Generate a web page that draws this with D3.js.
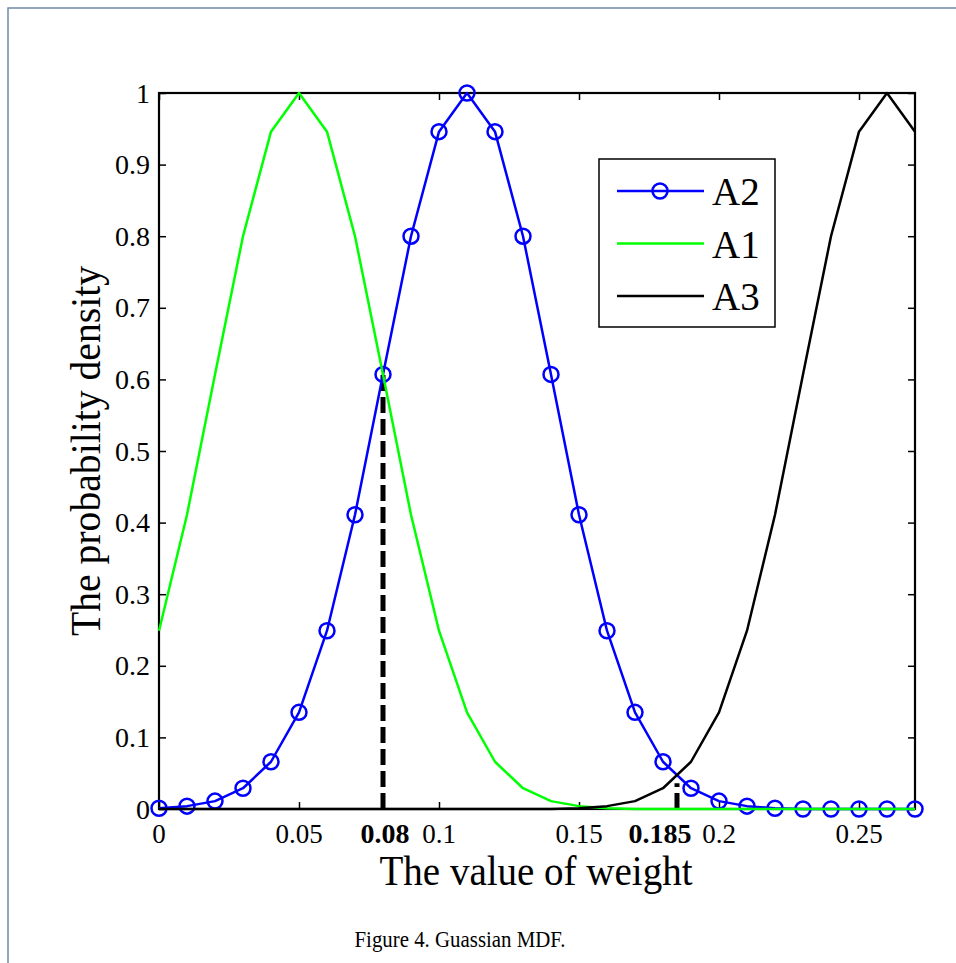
<!DOCTYPE html>
<html>
<head>
<meta charset="utf-8">
<script src="https://cdn.jsdelivr.net/npm/d3@7"></script>
<style>
  html, body { margin: 0; padding: 0; background: #fff; }
  svg { display: block; font-family: "Liberation Serif", "Times New Roman", serif; }
</style>
</head>
<body>
<svg id="chart" width="956" height="963"></svg>
<script>
// Weight grid (x) and the membership curve of each class
const weights = [0.00, 0.01, 0.02, 0.03, 0.04, 0.05, 0.06, 0.07, 0.08, 0.09,
                 0.10, 0.11, 0.12, 0.13, 0.14, 0.15, 0.16, 0.17, 0.18, 0.19,
                 0.20, 0.21, 0.22, 0.23, 0.24, 0.25, 0.26, 0.27];
const seriesA2 = [0.001, 0.004, 0.011, 0.029, 0.066, 0.135, 0.249, 0.411, 0.607, 0.800,
                  0.946, 1.000, 0.946, 0.800, 0.607, 0.411, 0.249, 0.135, 0.066, 0.029,
                  0.011, 0.004, 0.001, 0.000, 0.000, 0.000, 0.000, 0.000];
const seriesA1 = [0.249, 0.411, 0.607, 0.800, 0.946, 1.000, 0.946, 0.800, 0.607, 0.411,
                  0.249, 0.135, 0.066, 0.029, 0.011, 0.004, 0.001, 0.000, 0.000, 0.000,
                  0.000, 0.000, 0.000, 0.000, 0.000, 0.000, 0.000, 0.000];
const seriesA3 = [0.000, 0.000, 0.000, 0.000, 0.000, 0.000, 0.000, 0.000, 0.000, 0.000,
                  0.000, 0.000, 0.000, 0.000, 0.000, 0.001, 0.004, 0.011, 0.029, 0.066,
                  0.135, 0.249, 0.411, 0.607, 0.800, 0.946, 1.000, 0.946];
const seriesNames = ["A2", "A1", "A3"];
const xTicks = [0, 0.05, 0.1, 0.15, 0.2, 0.25];
const xTickLabels = ["0", "0.05", "0.1", "0.15", "0.2", "0.25"];
const yTicks = [0, 0.1, 0.2, 0.3, 0.4, 0.5, 0.6, 0.7, 0.8, 0.9, 1];
const yTickLabels = ["0", "0.1", "0.2", "0.3", "0.4", "0.5", "0.6", "0.7", "0.8", "0.9", "1"];
// Crossing points marked with dashed drop lines
const crossWeights = [0.08, 0.185];
const crossHeights = [0.607, 0.036];
const crossLabels = ["0.08", "0.185"];

const svg = d3.select("#chart");
const W = 956, H = 963;
const plot = { left: 159, right: 915, top: 93, bottom: 809 };

svg.append("rect").attr("width", W).attr("height", H).attr("fill", "#fff");

// page frame lines
svg.append("path")
  .attr("d", `M8,${H} L8,8 L${W},8`)
  .attr("fill", "none").attr("stroke", "#7088a8").attr("stroke-width", 1.5);

const x = d3.scaleLinear().domain([0, 0.27]).range([plot.left, plot.right]);
const y = d3.scaleLinear().domain([0, 1]).range([plot.bottom, plot.top]);
const tickLen = 7;

// axes (inward ticks on all four sides)
const gAxes = svg.append("g");
gAxes.append("g").attr("transform", `translate(0,${plot.bottom})`)
  .call(d3.axisBottom(x).tickValues(xTicks).tickSizeInner(-tickLen).tickSizeOuter(0).tickFormat(""));
gAxes.append("g").attr("transform", `translate(0,${plot.top})`)
  .call(d3.axisTop(x).tickValues(xTicks).tickSizeInner(-tickLen).tickSizeOuter(0).tickFormat(""));
gAxes.append("g").attr("transform", `translate(${plot.left},0)`)
  .call(d3.axisLeft(y).tickValues(yTicks).tickSizeInner(-tickLen).tickSizeOuter(0).tickFormat(""));
gAxes.append("g").attr("transform", `translate(${plot.right},0)`)
  .call(d3.axisRight(y).tickValues(yTicks).tickSizeInner(-tickLen).tickSizeOuter(0).tickFormat(""));
gAxes.selectAll(".domain").remove();
gAxes.selectAll(".tick line").attr("stroke", "#000").attr("stroke-width", 1.5);
gAxes.append("rect")
  .attr("x", plot.left).attr("y", plot.top)
  .attr("width", plot.right - plot.left).attr("height", plot.bottom - plot.top)
  .attr("fill", "none").attr("stroke", "#000").attr("stroke-width", 2.2);

// tick labels
svg.append("g").selectAll("text").data(xTicks).join("text")
  .attr("x", d => x(d)).attr("y", plot.bottom + 34)
  .attr("text-anchor", "middle").attr("font-size", 27)
  .text((d, i) => xTickLabels[i]);
svg.append("g").selectAll("text").data(yTicks).join("text")
  .attr("x", plot.left - 9).attr("y", d => y(d)).attr("dy", "0.34em")
  .attr("text-anchor", "end").attr("font-size", 28)
  .text((d, i) => yTickLabels[i]);

// dashed drop lines at the crossing weights
svg.append("g").selectAll("line").data(crossWeights).join("line")
  .attr("x1", d => x(d)).attr("x2", d => x(d))
  .attr("y1", y(0)).attr("y2", (d, i) => y(crossHeights[i]))
  .attr("stroke", "#000").attr("stroke-width", 5)
  .attr("stroke-dasharray", "16,6");

// curves
const line = d3.line().x((d, i) => x(weights[i])).y(d => y(d));
const curves = [
  { name: seriesNames[0], values: seriesA2, color: "#0000ff", marker: true },
  { name: seriesNames[1], values: seriesA1, color: "#00ff00", marker: false },
  { name: seriesNames[2], values: seriesA3, color: "#000000", marker: false }
];
curves.forEach(c => {
  svg.append("path").datum(c.values)
    .attr("d", line).attr("fill", "none")
    .attr("stroke", c.color).attr("stroke-width", 2.5).attr("stroke-linejoin", "round");
  if (c.marker) {
    svg.append("g").selectAll("circle").data(c.values).join("circle")
      .attr("cx", (d, i) => x(weights[i])).attr("cy", d => y(d)).attr("r", 7.5)
      .attr("fill", "none").attr("stroke", c.color).attr("stroke-width", 2.5);
  }
});

// bold labels for the crossing weights
svg.append("g").selectAll("text").data(crossWeights).join("text")
  .attr("x", (d, i) => x(d) + (i === 1 ? -17 : 2)).attr("y", plot.bottom + 34)
  .attr("text-anchor", "middle").attr("font-size", 28).attr("font-weight", "bold")
  .text((d, i) => crossLabels[i]);

// axis titles
svg.append("text")
  .attr("x", (plot.left + plot.right) / 2 - 1).attr("y", 885)
  .attr("text-anchor", "middle").attr("font-size", 43)
  .attr("textLength", 313).attr("lengthAdjust", "spacingAndGlyphs")
  .text("The value of weight");
svg.append("text")
  .attr("transform", `translate(100,${(plot.top + plot.bottom) / 2}) rotate(-90)`)
  .attr("text-anchor", "middle").attr("font-size", 43)
  .attr("textLength", 370).attr("lengthAdjust", "spacingAndGlyphs")
  .text("The probability density");

// caption
svg.append("text")
  .attr("x", 460).attr("y", 947)
  .attr("text-anchor", "middle").attr("font-size", 23)
  .attr("textLength", 211).attr("lengthAdjust", "spacingAndGlyphs")
  .text("Figure 4. Guassian MDF.");

// legend
const lg = { x: 599, y: 159, w: 176, h: 168 };
const legend = svg.append("g");
legend.append("rect").attr("x", lg.x).attr("y", lg.y).attr("width", lg.w).attr("height", lg.h)
  .attr("fill", "#fff").attr("stroke", "#000").attr("stroke-width", 1.5);
curves.forEach((c, i) => {
  const cy = lg.y + 32 + i * 52.5;
  legend.append("line").attr("x1", lg.x + 18).attr("x2", lg.x + 105)
    .attr("y1", cy).attr("y2", cy).attr("stroke", c.color).attr("stroke-width", 2.5);
  if (c.marker) {
    legend.append("circle").attr("cx", lg.x + 61).attr("cy", cy).attr("r", 7.5)
      .attr("fill", "none").attr("stroke", c.color).attr("stroke-width", 2.5);
  }
  legend.append("text").attr("x", lg.x + 113).attr("y", cy + 14)
    .attr("font-size", 39).text(c.name);
});
</script>
</body>
</html>
